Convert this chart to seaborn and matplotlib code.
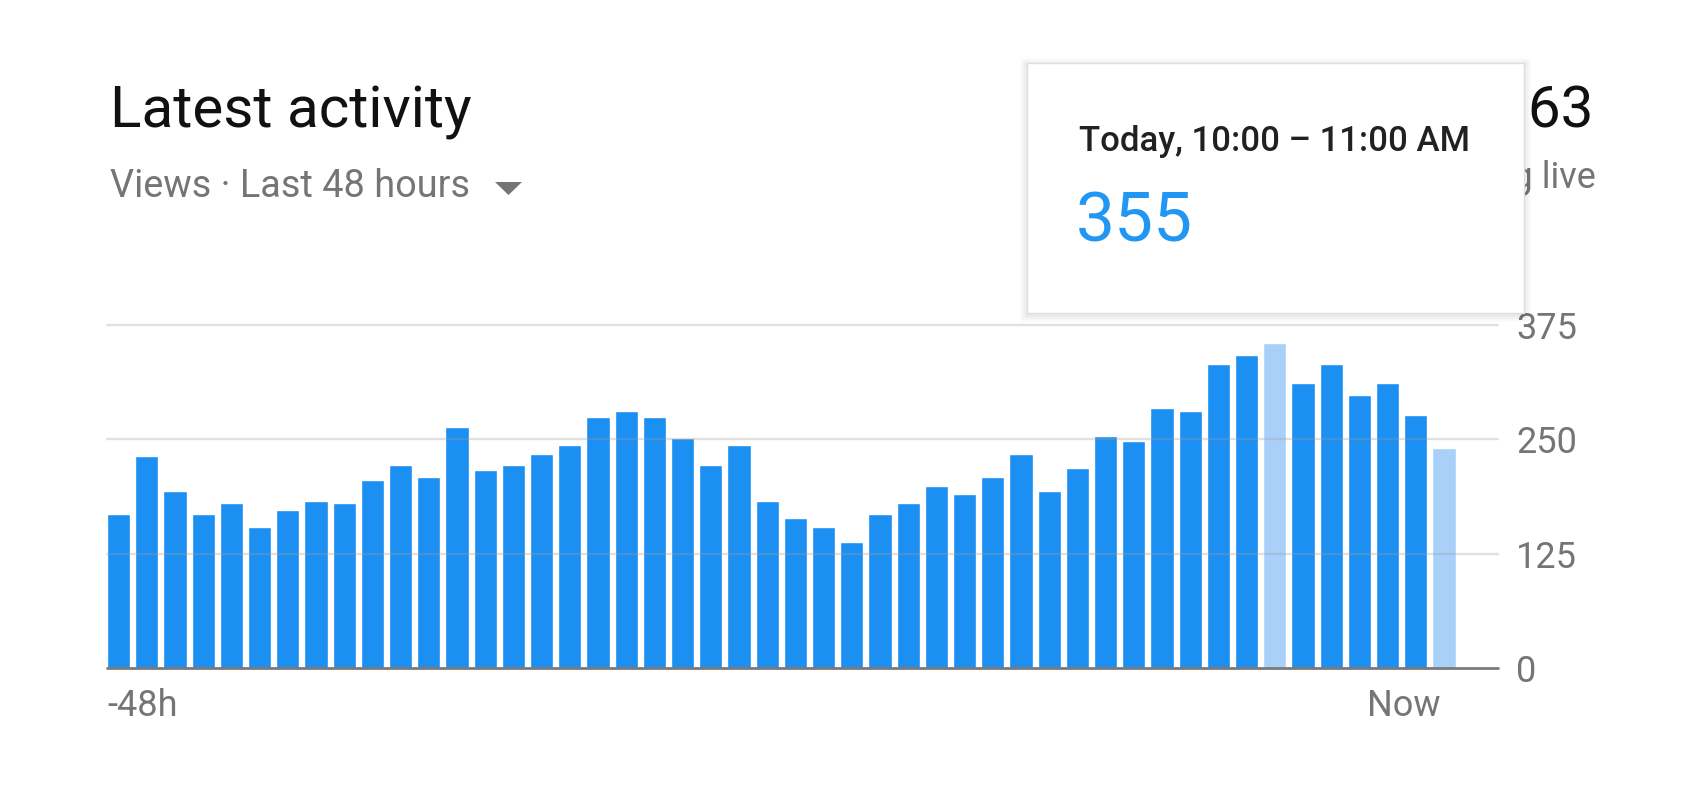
import matplotlib
matplotlib.use("Agg")
import matplotlib.pyplot as plt
from matplotlib.patches import Rectangle, Polygon
import numpy as np
import pandas as pd
import seaborn as sns

# Hourly views over the last 48 hours (oldest first)
views = [168, 232, 193, 168, 180, 154, 173, 183, 180, 206,
         222, 209, 264, 216, 222, 234, 244, 274, 281, 274,
         251, 222, 244, 183, 164, 154, 138, 168, 180, 199,
         190, 209, 234, 193, 219, 254, 248, 284, 281, 332,
         342, 355, 312, 332, 299, 312, 277, 241]
hover_index = 41          # hour under the tooltip
current_index = 47        # hour still in progress
y_ticks = [0, 125, 250, 375]
x_labels = ["-48h", "Now"]
title = "Latest activity"
subtitle = "Views · Last 48 hours"
total_value = "1,063"
total_caption = "Updating live"
tooltip_title = "Today, 10:00 – 11:00 AM"

BLUE = "#1b8ff2"
LIGHT_BLUE = "#a8d0f8"
GREY_TEXT = "#757575"

W, H = 1698, 787
DPI = 100


def fx(px):
    return px / W


def fy(py):
    return 1 - py / H


sns.set_theme(style="white")
plt.rcParams["font.family"] = ["Roboto", "DejaVu Sans"]

fig = plt.figure(figsize=(W / DPI, H / DPI), dpi=DPI)
fig.patch.set_facecolor("white")

ax_left, ax_right, ax_top, ax_bottom = 107, 1498, 325, 668
ax = fig.add_axes([fx(ax_left), fy(ax_bottom),
                   (ax_right - ax_left) / W, (ax_bottom - ax_top) / H])

shade = ["light" if i in (hover_index, current_index) else "dark"
         for i in range(len(views))]
df = pd.DataFrame({"hour": np.arange(len(views)), "views": views, "shade": shade})

bar_width = 0.825
sns.barplot(data=df, x="hour", y="views", hue="shade",
            palette={"dark": BLUE, "light": LIGHT_BLUE},
            dodge=False, width=bar_width, saturation=1, legend=False,
            ax=ax, zorder=1)

px_per_bar = 28.2
ax.set_xlim(-bar_width / 2, -bar_width / 2 + (ax_right - ax_left) / px_per_bar)
ax.set_ylim(0, 375)

for s in ax.spines.values():
    s.set_visible(False)
ax.set_xlabel("")
ax.set_ylabel("")
ax.set_xticks([])

# Horizontal grid drawn over the bars, baseline in darker grey
for t in y_ticks[1:]:
    ax.axhline(t, color="#9e9e9e", alpha=0.3, lw=1.7, zorder=3, clip_on=False)
ax.axhline(0, color="#7a7a7a", lw=2.0, zorder=4, clip_on=False)

ax.yaxis.tick_right()
ax.set_yticks(y_ticks)
ax.set_yticklabels([str(t) for t in y_ticks])
ax.tick_params(axis="y", length=0, pad=13, labelsize=26, labelcolor=GREY_TEXT)

# Time range labels under the axis
xlab_trans = matplotlib.transforms.blended_transform_factory(ax.transData, fig.transFigure)
ax.text(-bar_width / 2, fy(716), x_labels[0], transform=xlab_trans,
        ha="left", va="baseline", fontsize=26, color=GREY_TEXT)
ax.text(len(views) - 1 + bar_width / 2 - 0.55, fy(716), x_labels[1], transform=xlab_trans,
        ha="right", va="baseline", fontsize=26, color=GREY_TEXT)

# Card header
fig.text(fx(110), fy(127), title, ha="left", va="baseline",
         fontsize=42, color="#111111")
fig.text(fx(110), fy(197), subtitle, ha="left", va="baseline",
         fontsize=27.3, color=GREY_TEXT)
fig.add_artist(Polygon([[fx(495), fy(182)], [fx(522), fy(182)], [fx(508.5), fy(195)]],
                       closed=True, transform=fig.transFigure,
                       facecolor=GREY_TEXT, edgecolor="none"))

fig.text(fx(1594), fy(127), total_value, ha="right", va="baseline",
         fontsize=42, color="#111111", zorder=1)
fig.text(fx(1596), fy(188), total_caption, ha="right", va="baseline",
         fontsize=26, color=GREY_TEXT, zorder=1)

# Tooltip card with a soft shadow
bx0, by0, bx1, by1 = 1027, 63, 1524, 313
for k in range(1, 8):
    fig.add_artist(Rectangle((fx(bx0 - k), fy(by1 + 2 + k)),
                             (bx1 - bx0 + 2 * k) / W, (by1 - by0 + 2 * k) / H,
                             transform=fig.transFigure, facecolor="black",
                             edgecolor="none", alpha=0.012, zorder=8))
fig.add_artist(Rectangle((fx(bx0), fy(by1)), (bx1 - bx0) / W, (by1 - by0) / H,
                         transform=fig.transFigure, facecolor="white",
                         edgecolor="#dedede", lw=1.0, zorder=9))
fig.text(fx(1079), fy(151), tooltip_title, ha="left", va="baseline",
         fontsize=25, fontweight="medium", color="#212121", zorder=10)
fig.text(fx(1076), fy(241), f"{views[hover_index]}", ha="left", va="baseline",
         fontsize=50, color="#2196f3", zorder=10)

fig.savefig("out.png", dpi=DPI, facecolor="white")
